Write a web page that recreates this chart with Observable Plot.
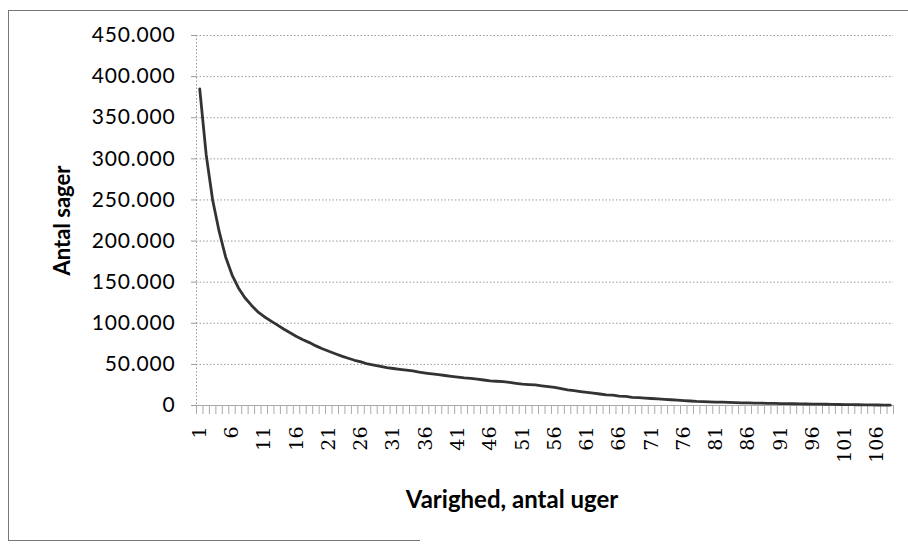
<!DOCTYPE html>
<html>
<head>
<meta charset="utf-8">
<script src="https://cdn.jsdelivr.net/npm/d3@7"></script>
<script src="https://cdn.jsdelivr.net/npm/@observablehq/plot@0.6"></script>
<style>
  body { margin: 0; background: #fff; }
  #wrap { position: relative; width: 908px; height: 545px; overflow: hidden; background: #fff; }
  #frame { position: absolute; left: 8px; top: 10px; width: 910px; height: 530px;
           border-top: 1px solid #777; border-left: 1px solid #777; }
  #bottom { position: absolute; left: 8px; top: 540px; width: 412px; border-top: 1px solid #777; }
  #chart { position: absolute; left: 0; top: 0; }
  #chart g[aria-label="y-axis tick label"] text { letter-spacing: 0.8px; }
</style>
</head>
<body>
<div id="wrap"><div id="frame"></div><div id="bottom"></div><div id="chart"></div></div>
<script>
// Antal sager (number of cases) per week of duration, weeks 1..108
const cases = [
  385000, 305000, 250000, 212000, 181000, 159000, 143000, 131000, 122000, 114000,
  108000, 103000,  98000,  93000,  88500,  84000,  80000,  76500,  72500,  69000,
   66000,  63000,  60000,  57500,  55000,  53000,  50500,  49000,  47500,  46000,
   45000,  44000,  43000,  42000,  40500,  39500,  38500,  37500,  36500,  35500,
   34500,  33500,  33000,  32000,  31000,  30000,  29500,  29000,  28000,  27000,
   26000,  25500,  25000,  24000,  23000,  22000,  20500,  19000,  18000,  17000,
   16000,  15000,  14000,  13000,  12500,  11500,  11000,  10000,   9500,   9000,
    8500,   8000,   7500,   7000,   6500,   6000,   5500,   5000,   4700,   4500,
    4200,   4000,   3800,   3500,   3300,   3100,   3000,   2800,   2600,   2500,
    2400,   2200,   2100,   2000,   1800,   1700,   1600,   1500,   1400,   1200,
    1100,   1000,    900,    800,    700,    600,    500,    400
];
const yTicks = [0, 50000, 100000, 150000, 200000, 250000, 300000, 350000, 400000, 450000];
const xTickLabels = [1, 6, 11, 16, 21, 26, 31, 36, 41, 46, 51, 56, 61, 66, 71, 76, 81, 86, 91, 96, 101, 106];
const yTitle = "Antal sager";
const xTitle = "Varighed, antal uger";

const data = cases.map((v, i) => ({week: i + 1, cases: v}));
const boundaries = data.map(d => d.week - 0.5).concat([data.length + 0.5]);
const fmt = d => d === 0 ? "0" : d3.format(",")(d).replace(/,/g, ".");

const chart = Plot.plot({
  width: 908,
  height: 545,
  marginLeft: 196,
  marginRight: 15,
  marginTop: 35,
  marginBottom: 140,
  style: {fontFamily: "Lato, sans-serif", background: "transparent", color: "#000"},
  x: {type: "linear", domain: [0.5, data.length + 0.5]},
  y: {domain: [0, 450000]},
  marks: [
    Plot.gridY(yTicks.filter(d => d > 0), {stroke: "#999", strokeOpacity: 1, strokeDasharray: "1.5,2"}),
    Plot.ruleX([0.5], {stroke: "#999", strokeDasharray: "1.5,2"}),
    Plot.axisY(yTicks, {tickSize: 5, tickPadding: 16, fontSize: 21, tickFormat: fmt, stroke: "#999", label: null}),
    Plot.axisX(boundaries, {tickSize: 9, tickFormat: () => "", stroke: "#aaa", label: null}),
    Plot.axisX(xTickLabels, {tickSize: 0, tickPadding: 21, tickRotate: -90, fontSize: 19,
                             fontFamily: "DejaVu Serif", label: null}),
    Plot.ruleY([0], {stroke: "#aaa"}),
    Plot.line(data, {x: "week", y: "cases", stroke: "#333", strokeWidth: 2.8}),
    Plot.text([yTitle], {frameAnchor: "left", textAnchor: "middle", lineAnchor: "middle",
                         dx: -134, rotate: -90, fontSize: 22, fontWeight: "bold"}),
    Plot.text([xTitle], {frameAnchor: "bottom", textAnchor: "middle", lineAnchor: "middle",
                         dx: -33, dy: 95, fontSize: 24, fontWeight: "bold"})
  ]
});
document.getElementById("chart").appendChild(chart);
</script>
</body>
</html>
